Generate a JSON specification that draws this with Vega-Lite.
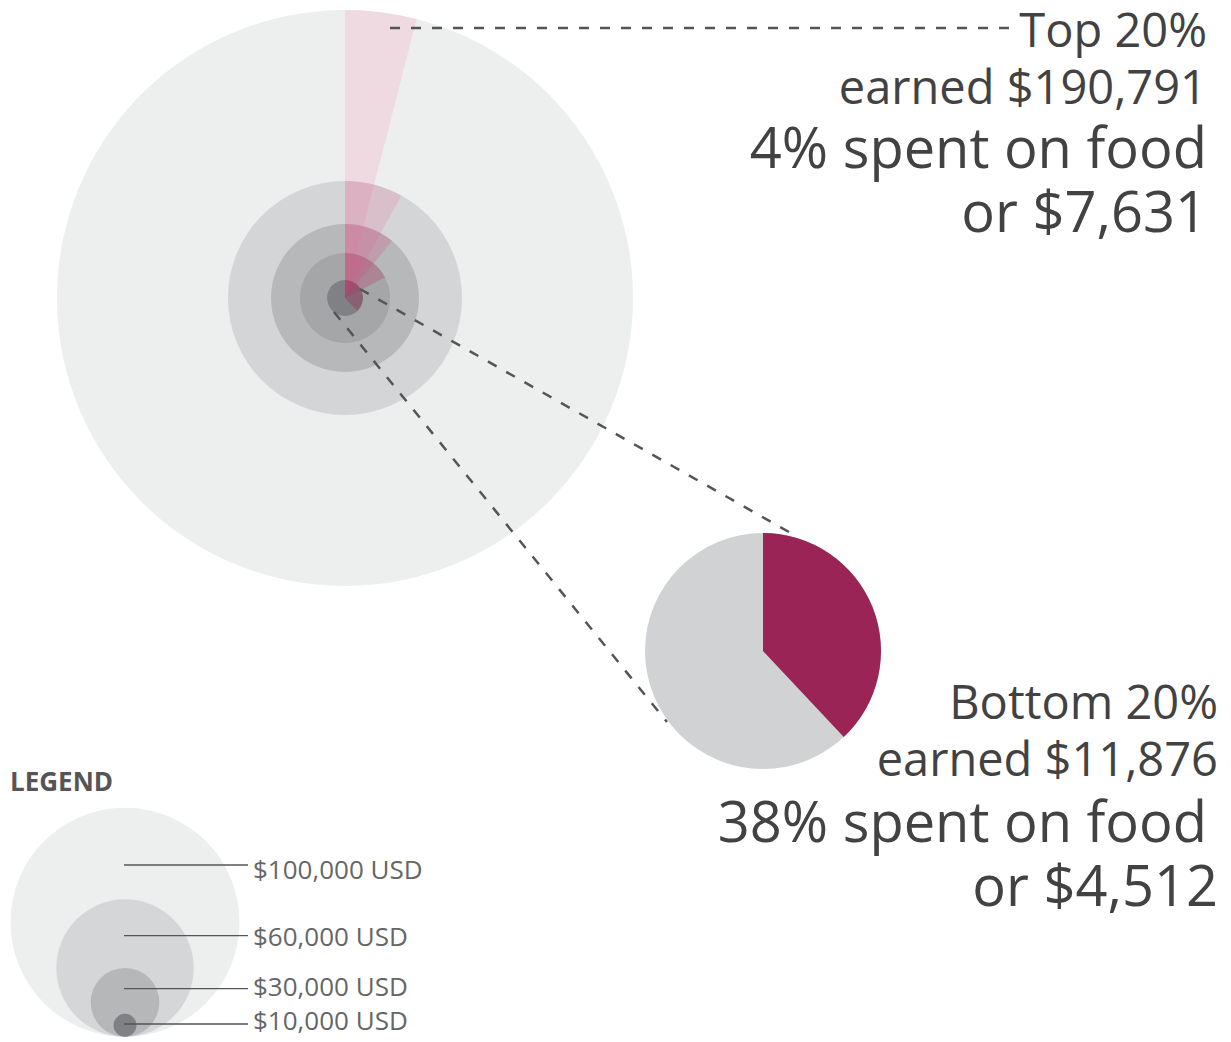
{
  "$schema": "https://vega.github.io/schema/vega-lite/v6.json",
  "width": 1231,
  "height": 1042,
  "autosize": {"type": "fit", "contains": "padding"},
  "padding": 0,
  "background": "white",
  "config": {"view": {"stroke": null}},
  "datasets": {
    "quintiles": [
      {"q": "Top 20%", "income": 190791, "share": 0.04},
      {"q": "Fourth 20%", "income": 77500, "share": 0.08},
      {"q": "Middle 20%", "income": 49000, "share": 0.11},
      {"q": "Second 20%", "income": 29800, "share": 0.175},
      {"q": "Bottom 20%", "income": 11876, "share": 0.38}
    ],
    "legend": [
      {"amount": 100000, "label": "$100,000 USD"},
      {"amount": 60000, "label": "$60,000 USD"},
      {"amount": 30000, "label": "$30,000 USD"},
      {"amount": 10000, "label": "$10,000 USD"}
    ],
    "one": [{"k": 1}]
  },
  "resolve": {"scale": {"y": "independent", "radius": "independent", "color": "independent", "opacity": "independent", "theta": "independent"}},
  "layer": [
    {
      "data": {"name": "quintiles"},
      "mark": {"type": "arc"},
      "encoding": {
        "x": {"datum": 345, "type": "quantitative", "scale": {"domain": [0, 1231], "range": [0, 1231]}, "axis": null},
        "y": {"datum": 298, "type": "quantitative", "scale": {"domain": [0, 1042], "range": [0, 1042]}, "axis": null},
        "radius": {"field": "income", "type": "quantitative", "stack": null, "scale": {"type": "linear", "domain": [0, 190791], "range": [0, 288]}},
        "color": {"field": "q", "type": "nominal", "scale": {"domain": ["Top 20%", "Fourth 20%", "Middle 20%", "Second 20%", "Bottom 20%"], "range": ["#EDEEEE", "#D4D5D7", "#B7B8BA", "#A5A6A8", "#808184"]}, "legend": null}
      }
    },
    {
      "data": {"name": "quintiles"},
      "mark": {"type": "arc"},
      "encoding": {
        "x": {"datum": 345, "type": "quantitative", "scale": {"domain": [0, 1231], "range": [0, 1231]}, "axis": null},
        "y": {"datum": 298, "type": "quantitative", "scale": {"domain": [0, 1042], "range": [0, 1042]}, "axis": null},
        "radius": {"field": "income", "type": "quantitative", "stack": null, "scale": {"type": "linear", "domain": [0, 190791], "range": [0, 288]}},
        "theta": {"field": "share", "type": "quantitative", "stack": null, "scale": {"domain": [0, 1], "range": [0, 6.283185307]}},
        "color": {"field": "q", "type": "nominal", "scale": {"domain": ["Top 20%", "Fourth 20%", "Middle 20%", "Second 20%", "Bottom 20%"], "range": ["#F0749E", "#EC6C98", "#D84C80", "#C0356B", "#9B2457"]}, "legend": null},
        "opacity": {"field": "q", "type": "ordinal", "scale": {"domain": ["Top 20%", "Fourth 20%", "Middle 20%", "Second 20%", "Bottom 20%"], "range": [0.16, 0.34, 0.5, 0.62, 1]}, "legend": null}
      }
    },
    {
      "data": {"name": "quintiles"},
      "transform": [{"filter": "datum.q === 'Bottom 20%'"}],
      "mark": {"type": "arc", "radius": 118, "color": "#D1D2D4"},
      "encoding": {
        "x": {"datum": 763, "type": "quantitative", "scale": {"domain": [0, 1231], "range": [0, 1231]}, "axis": null},
        "y": {"datum": 651, "type": "quantitative", "scale": {"domain": [0, 1042], "range": [0, 1042]}, "axis": null}
      }
    },
    {
      "data": {"name": "quintiles"},
      "transform": [{"filter": "datum.q === 'Bottom 20%'"}],
      "mark": {"type": "arc", "radius": 118, "color": "#9B2457"},
      "encoding": {
        "x": {"datum": 763, "type": "quantitative", "scale": {"domain": [0, 1231], "range": [0, 1231]}, "axis": null},
        "y": {"datum": 651, "type": "quantitative", "scale": {"domain": [0, 1042], "range": [0, 1042]}, "axis": null},
        "theta": {"field": "share", "type": "quantitative", "stack": null, "scale": {"domain": [0, 1], "range": [0, 6.283185307]}}
      }
    },
    {
      "data": {"name": "one"},
      "layer": [
        {
          "mark": {"type": "rule", "color": "#555555", "strokeWidth": 2.5, "strokeDash": [10, 11]},
          "encoding": {
            "x": {"datum": 390, "type": "quantitative", "scale": {"domain": [0, 1231], "range": [0, 1231]}, "axis": null},
            "x2": {"datum": 1015},
            "y": {"datum": 28, "type": "quantitative", "scale": {"domain": [0, 1042], "range": [0, 1042]}, "axis": null}
          }
        },
        {
          "mark": {"type": "rule", "color": "#555555", "strokeWidth": 2.5, "strokeDash": [10, 11]},
          "encoding": {
            "x": {"datum": 360, "type": "quantitative", "scale": {"domain": [0, 1231], "range": [0, 1231]}, "axis": null},
            "x2": {"datum": 796},
            "y": {"datum": 289, "type": "quantitative", "scale": {"domain": [0, 1042], "range": [0, 1042]}, "axis": null},
            "y2": {"datum": 536}
          }
        },
        {
          "mark": {"type": "rule", "color": "#555555", "strokeWidth": 2.5, "strokeDash": [10, 11]},
          "encoding": {
            "x": {"datum": 334, "type": "quantitative", "scale": {"domain": [0, 1231], "range": [0, 1231]}, "axis": null},
            "x2": {"datum": 667},
            "y": {"datum": 312, "type": "quantitative", "scale": {"domain": [0, 1042], "range": [0, 1042]}, "axis": null},
            "y2": {"datum": 722}
          }
        },
        {
          "mark": {"type": "text", "align": "right", "baseline": "alphabetic", "font": "Open Sans", "fontSize": 47, "color": "#424242"},
          "encoding": {
            "x": {"datum": 1207, "type": "quantitative", "scale": {"domain": [0, 1231], "range": [0, 1231]}, "axis": null},
            "y": {"datum": 47, "type": "quantitative", "scale": {"domain": [0, 1042], "range": [0, 1042]}, "axis": null},
            "text": {"value": "Top 20%"}
          }
        },
        {
          "mark": {"type": "text", "align": "right", "baseline": "alphabetic", "font": "Open Sans", "fontSize": 47, "color": "#424242"},
          "encoding": {
            "x": {"datum": 1207, "type": "quantitative", "scale": {"domain": [0, 1231], "range": [0, 1231]}, "axis": null},
            "y": {"datum": 104, "type": "quantitative", "scale": {"domain": [0, 1042], "range": [0, 1042]}, "axis": null},
            "text": {"value": "earned $190,791"}
          }
        },
        {
          "mark": {"type": "text", "align": "right", "baseline": "alphabetic", "font": "Open Sans", "fontSize": 56, "color": "#424242"},
          "encoding": {
            "x": {"datum": 1207, "type": "quantitative", "scale": {"domain": [0, 1231], "range": [0, 1231]}, "axis": null},
            "y": {"datum": 168, "type": "quantitative", "scale": {"domain": [0, 1042], "range": [0, 1042]}, "axis": null},
            "text": {"value": "4% spent on food"}
          }
        },
        {
          "mark": {"type": "text", "align": "right", "baseline": "alphabetic", "font": "Open Sans", "fontSize": 56, "color": "#424242"},
          "encoding": {
            "x": {"datum": 1207, "type": "quantitative", "scale": {"domain": [0, 1231], "range": [0, 1231]}, "axis": null},
            "y": {"datum": 232, "type": "quantitative", "scale": {"domain": [0, 1042], "range": [0, 1042]}, "axis": null},
            "text": {"value": "or $7,631"}
          }
        },
        {
          "mark": {"type": "text", "align": "right", "baseline": "alphabetic", "font": "Open Sans", "fontSize": 47, "color": "#424242"},
          "encoding": {
            "x": {"datum": 1218, "type": "quantitative", "scale": {"domain": [0, 1231], "range": [0, 1231]}, "axis": null},
            "y": {"datum": 719, "type": "quantitative", "scale": {"domain": [0, 1042], "range": [0, 1042]}, "axis": null},
            "text": {"value": "Bottom 20%"}
          }
        },
        {
          "mark": {"type": "text", "align": "right", "baseline": "alphabetic", "font": "Open Sans", "fontSize": 47, "color": "#424242"},
          "encoding": {
            "x": {"datum": 1218, "type": "quantitative", "scale": {"domain": [0, 1231], "range": [0, 1231]}, "axis": null},
            "y": {"datum": 776, "type": "quantitative", "scale": {"domain": [0, 1042], "range": [0, 1042]}, "axis": null},
            "text": {"value": "earned $11,876"}
          }
        },
        {
          "mark": {"type": "text", "align": "right", "baseline": "alphabetic", "font": "Open Sans", "fontSize": 56, "color": "#424242"},
          "encoding": {
            "x": {"datum": 1207, "type": "quantitative", "scale": {"domain": [0, 1231], "range": [0, 1231]}, "axis": null},
            "y": {"datum": 842, "type": "quantitative", "scale": {"domain": [0, 1042], "range": [0, 1042]}, "axis": null},
            "text": {"value": "38% spent on food"}
          }
        },
        {
          "mark": {"type": "text", "align": "right", "baseline": "alphabetic", "font": "Open Sans", "fontSize": 56, "color": "#424242"},
          "encoding": {
            "x": {"datum": 1218, "type": "quantitative", "scale": {"domain": [0, 1231], "range": [0, 1231]}, "axis": null},
            "y": {"datum": 906, "type": "quantitative", "scale": {"domain": [0, 1042], "range": [0, 1042]}, "axis": null},
            "text": {"value": "or $4,512"}
          }
        }
      ]
    },
    {
      "data": {"name": "legend"},
      "mark": {"type": "arc"},
      "encoding": {
        "x": {"datum": 125, "type": "quantitative", "scale": {"domain": [0, 1231], "range": [0, 1231]}, "axis": null},
        "y": {"field": "amount", "type": "quantitative", "stack": null, "scale": {"domain": [0, 100000], "range": [1036.7, 922.2]}, "axis": null},
        "radius": {"field": "amount", "type": "quantitative", "stack": null, "scale": {"type": "linear", "domain": [0, 100000], "range": [0, 114.5]}},
        "color": {"field": "label", "type": "nominal", "scale": {"domain": ["$100,000 USD", "$60,000 USD", "$30,000 USD", "$10,000 USD"], "range": ["#EDEEEE", "#D5D6D8", "#B6B7B9", "#808184"]}, "legend": null}
      }
    },
    {
      "data": {"name": "legend"},
      "mark": {"type": "rule", "color": "#555555", "strokeWidth": 1.3},
      "encoding": {
        "x": {"datum": 124, "type": "quantitative", "scale": {"domain": [0, 1231], "range": [0, 1231]}, "axis": null},
        "x2": {"datum": 248},
        "y": {"field": "amount", "type": "quantitative", "scale": {"zero": false, "domain": [10000, 100000], "range": [1024, 865]}, "axis": null}
      }
    },
    {
      "data": {"name": "legend"},
      "mark": {"type": "text", "align": "left", "baseline": "alphabetic", "font": "Open Sans", "fontSize": 26, "color": "#666666"},
      "encoding": {
        "x": {"datum": 253, "type": "quantitative", "scale": {"domain": [0, 1231], "range": [0, 1231]}, "axis": null},
        "y": {"field": "amount", "type": "quantitative", "scale": {"zero": false, "domain": [10000, 100000], "range": [1030, 879]}, "axis": null},
        "text": {"field": "label", "type": "nominal"}
      }
    },
    {
      "data": {"name": "one"},
      "mark": {"type": "text", "align": "left", "baseline": "alphabetic", "font": "Open Sans", "fontSize": 26, "fontWeight": "bold", "color": "#555555"},
      "encoding": {
        "x": {"datum": 10, "type": "quantitative", "scale": {"domain": [0, 1231], "range": [0, 1231]}, "axis": null},
        "y": {"datum": 791, "type": "quantitative", "scale": {"domain": [0, 1042], "range": [0, 1042]}, "axis": null},
        "text": {"value": "LEGEND"}
      }
    }
  ]
}
